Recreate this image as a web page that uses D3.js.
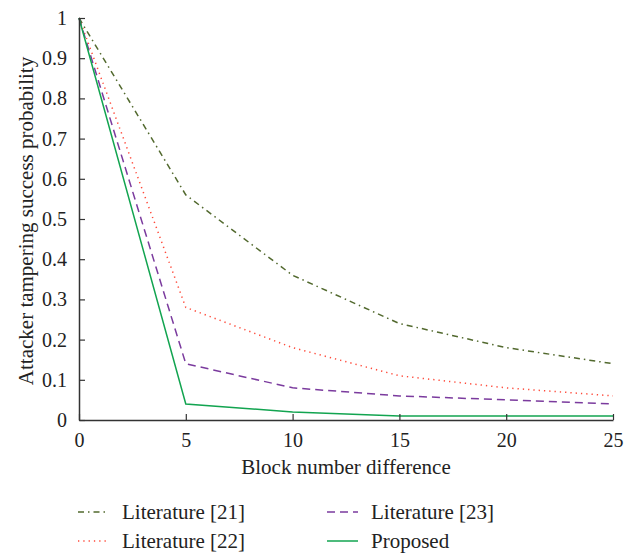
<!DOCTYPE html>
<html><head><meta charset="utf-8">
<script src="https://cdn.jsdelivr.net/npm/d3@7"></script>
<style>body{margin:0;background:#fff}svg{display:block}text{font-family:"Liberation Serif","DejaVu Serif",serif;fill:#222}</style>
</head><body><svg id="c" width="639" height="554"></svg>
<script>
const xValues = [0, 5, 10, 15, 20, 25];
const lit21 = [1, 0.56, 0.36, 0.24, 0.18, 0.14];
const lit22 = [1, 0.28, 0.18, 0.11, 0.08, 0.06];
const lit23 = [1, 0.14, 0.08, 0.06, 0.05, 0.04];
const proposed = [1, 0.04, 0.02, 0.01, 0.01, 0.01];
const xTicks = [0, 5, 10, 15, 20, 25];
const yTicks = [0, 0.1, 0.2, 0.3, 0.4, 0.5, 0.6, 0.7, 0.8, 0.9, 1];
const seriesNames = ["Literature [21]", "Literature [22]", "Literature [23]", "Proposed"];

const series = [
  {name: seriesNames[0], values: lit21, color: "#52692e", dash: "6,4,1.5,4"},
  {name: seriesNames[1], values: lit22, color: "#ff4a3a", dash: "1.3,4"},
  {name: seriesNames[2], values: lit23, color: "#7b3b9e", dash: "8,5"},
  {name: seriesNames[3], values: proposed, color: "#12a450", dash: null}
];
const FF = '"Liberation Serif","DejaVu Serif",serif';

const svg = d3.select("#c");
const x = d3.scaleLinear().domain([0, 25]).range([79, 613]);
const y = d3.scaleLinear().domain([0, 1]).range([420, 18]);

const line = d3.line().x((d, i) => x(xValues[i])).y(d => y(d));

series.forEach(s => {
  svg.append("path").attr("d", line(s.values)).attr("fill", "none")
    .attr("stroke", s.color).attr("stroke-width", 1.5)
    .attr("stroke-dasharray", s.dash);
});

const fmt = d => d === 0 ? "0" : d === 1 ? "1" : d3.format(".1f")(d);
const xAxis = svg.append("g").attr("transform", "translate(0,420)")
  .call(d3.axisBottom(x).tickValues(xTicks).tickSizeInner(-6).tickSizeOuter(0).tickPadding(13));
const yAxis = svg.append("g").attr("transform", "translate(79,0)")
  .call(d3.axisLeft(y).tickValues(yTicks).tickFormat(fmt).tickSizeInner(-6).tickSizeOuter(0).tickPadding(12));
[xAxis, yAxis].forEach(g => {
  g.attr("font-family", FF).attr("font-size", 20);
  g.select(".domain").attr("stroke", "#333").attr("stroke-width", 1.5);
  g.selectAll(".tick line").attr("stroke", "#333").attr("stroke-width", 1.2);
  g.selectAll(".tick text").attr("fill", "#222");
});

svg.append("text").attr("x", 346).attr("y", 474).attr("text-anchor", "middle")
  .attr("font-size", 21).text("Block number difference");
svg.append("text").attr("transform", "translate(33,221) rotate(-90)").attr("text-anchor", "middle")
  .attr("font-size", 21).text("Attacker tampering success probability");

const legendPos = [[78, 512], [78, 541], [327, 512], [327, 541]];
series.forEach((s, i) => {
  const [lx, ly] = legendPos[i];
  svg.append("line").attr("x1", lx).attr("x2", lx + 31).attr("y1", ly).attr("y2", ly)
    .attr("stroke", s.color).attr("stroke-width", 1.5).attr("stroke-dasharray", s.dash);
  svg.append("text").attr("x", lx + 44).attr("y", ly + 7).attr("font-size", 21).text(s.name);
});
</script></body></html>
